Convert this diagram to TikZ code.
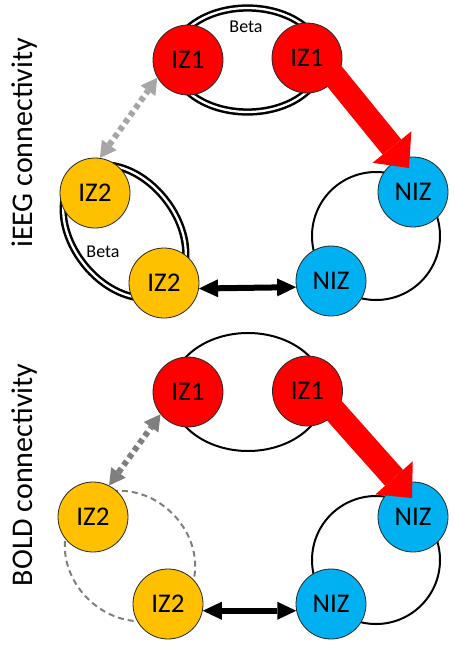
\documentclass[tikz,border=0pt]{standalone}
\usepackage{fontspec}
\setmainfont{Carlito}
\usetikzlibrary{arrows.meta}
\definecolor{izred}{HTML}{FF0000}
\definecolor{izyel}{HTML}{FFC000}
\definecolor{nizblue}{HTML}{00B0F0}
\definecolor{lgrey}{HTML}{A6A6A6}
\definecolor{dgrey}{HTML}{7F7F7F}
\begin{document}
\begin{tikzpicture}[x=1pt,y=-1pt,
  region/.style={circle, draw=black!85, line width=0.8pt, minimum size=70pt, inner sep=0pt, font=\fontsize{27}{30}\selectfont},
  iz1/.style={region, fill=izred},
  iz2/.style={region, fill=izyel},
  niz/.style={region, fill=nizblue},
  dblring/.style={draw=black, line width=2.5pt, double=white, double distance=2.3pt},
  ring/.style={draw=black, line width=2pt},
  dashring/.style={draw=dgrey, line width=2pt, dash pattern=on 6pt off 4pt},
  redarrow/.style={draw=izred, line width=24pt, -{Triangle[width=50pt,length=27pt,line width=0pt]}},
  blkarrow/.style={draw=black, line width=6pt, {Triangle[width=18pt,length=19pt,line width=0pt]}-{Triangle[width=18pt,length=19pt,line width=0pt]}},
  greyarrow/.style={line width=6pt, dash pattern=on 5pt off 4pt, {Triangle[width=18pt,length=16pt,line width=0pt]}-{Triangle[width=18pt,length=16pt,line width=0pt]}},
  betalabel/.style={font=\fontsize{18}{21}\selectfont},
  sidelabel/.style={rotate=90, font=\fontsize{30}{34}\selectfont}
]
\useasboundingbox (0,0) rectangle (454,645);

% ---------- top panel: iEEG ----------
\draw[dblring] (247.5,60) ellipse [x radius=75, y radius=52];
\draw[dblring, rotate around={-52:(124.5,231.5)}] (124.5,231.5) ellipse [x radius=74, y radius=52];
\draw[ring] (376,236) circle [radius=64];

\node[iz1] (tIZ1a) at (188,60) {IZ1};
\node[iz1] (tIZ1b) at (307,58) {IZ1};
\node[niz] (tNIZa) at (413,192) {NIZ};
\node[niz] (tNIZb) at (331,281) {NIZ};
\node[iz2] (tIZ2a) at (95,193) {IZ2};
\node[iz2] (tIZ2b) at (164,283) {IZ2};

\node[betalabel] (tbeta1) at (246,27) {Beta};
\node[betalabel] (tbeta2) at (103,252) {Beta};

\coordinate (ttip) at (409,168);
\draw[greyarrow, draw=lgrey] (tIZ2a.82) -- (tIZ1a.210);
\draw[blkarrow] (tIZ2b.-9) -- (tNIZb.190);
\draw[redarrow, shorten <=-10pt] (tIZ1b.-35) -- (ttip);

% ---------- bottom panel: BOLD ----------
\draw[ring] (248,392) ellipse [x radius=77, y radius=59];
\draw[dashring, rotate around={-45:(130,556)}] (130,556) ellipse [x radius=70, y radius=60];
\draw[ring] (376,560) circle [radius=64];

\node[iz1] (bIZ1a) at (188,392) {IZ1};
\node[iz1] (bIZ1b) at (307.5,391) {IZ1};
\node[niz] (bNIZa) at (413,517) {NIZ};
\node[niz] (bNIZb) at (331,604) {NIZ};
\node[iz2] (bIZ2a) at (93,517) {IZ2};
\node[iz2] (bIZ2b) at (168,604) {IZ2};

\coordinate (btip) at (412,498);
\draw[greyarrow, draw=dgrey] (bIZ2a.63) -- (bIZ1a.219);
\draw[blkarrow] (bIZ2b.-11) -- (bNIZb.191);
\draw[redarrow, shorten <=-10pt] (bIZ1b.-37) -- (btip);

% ---------- side labels ----------
\node[sidelabel] (labA) at (25,143) {iEEG connectivity};
\node[sidelabel] (labB) at (25,475) {BOLD connectivity};
\end{tikzpicture}
\end{document}
